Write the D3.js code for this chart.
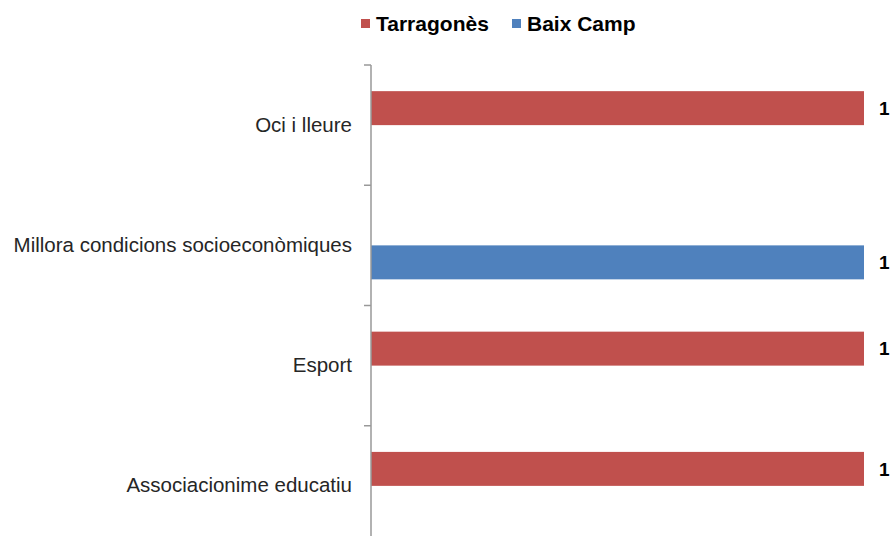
<!DOCTYPE html>
<meta charset="utf-8">
<style>
  body { margin: 0; background: #fff; }
  text { font-family: "Liberation Sans", Arial, sans-serif; }
</style>
<body>
<script src="https://d3js.org/d3.v7.min.js"></script>
<script>
var categories = ["Oci i lleure", "Millora condicions socioeconòmiques", "Esport", "Associacionime educatiu"];
var seriesNames = ["Tarragonès", "Baix Camp"];
var tarragones = [1, null, 1, 1];
var baixCamp = [null, 1, null, null];
var colors = ["#C0504D", "#4F81BD"];

var width = 891, height = 536;

var svg = d3.select("body").append("svg")
    .attr("width", width)
    .attr("height", height);

var y = d3.scaleBand()
    .domain(categories)
    .range([65, 546]);

var ySeries = d3.scaleBand()
    .domain(seriesNames)
    .range([0, y.bandwidth()])
    .paddingOuter(0.77)
    .paddingInner(0);

var x = d3.scaleLinear()
    .domain([0, 1])
    .range([371, 864]);

var rows = [];
categories.forEach(function(c, i) {
  [tarragones, baixCamp].forEach(function(s, j) {
    if (s[i] != null) rows.push({cat: c, series: seriesNames[j], value: s[i], color: colors[j]});
  });
});

// bars
svg.selectAll("rect.bar")
  .data(rows)
  .enter()
  .append("rect")
  .attr("class", "bar")
  .attr("x", x(0))
  .attr("y", function(d) { return y(d.cat) + ySeries(d.series); })
  .attr("width", function(d) { return x(d.value) - x(0); })
  .attr("height", ySeries.bandwidth())
  .attr("fill", function(d) { return d.color; });

// value labels
svg.selectAll("text.val")
  .data(rows)
  .enter()
  .append("text")
  .attr("class", "val")
  .attr("x", function(d) { return x(d.value) + 15; })
  .attr("y", function(d) { return y(d.cat) + ySeries(d.series) + ySeries.bandwidth() / 2; })
  .attr("dy", "0.35em")
  .attr("font-size", 19)
  .attr("font-weight", "bold")
  .attr("fill", "#000")
  .text(function(d) { return d.value; });

// category axis
var axis = d3.axisLeft(y).tickSize(0).tickPadding(19);
var gAxis = svg.append("g")
    .attr("transform", "translate(" + x(0) + ",0)")
    .call(axis);
gAxis.select(".domain").remove();
gAxis.selectAll("text")
  .attr("font-size", 20.5)
  .attr("fill", "#262626")
  .style("font-family", "'Liberation Sans', Arial, sans-serif");

svg.append("line")
  .attr("x1", x(0)).attr("x2", x(0))
  .attr("y1", 65).attr("y2", height)
  .attr("stroke", "#999").attr("stroke-width", 1.5);

// tick marks between categories
var boundaries = categories.map(function(c) { return y(c); });
svg.selectAll("line.tick")
  .data(boundaries)
  .enter()
  .append("line")
  .attr("class", "tick")
  .attr("x1", x(0) - 7).attr("x2", x(0))
  .attr("y1", function(d) { return d; })
  .attr("y2", function(d) { return d; })
  .attr("stroke", "#999").attr("stroke-width", 1.5);

// legend
var legendX = [361, 512];
var legend = svg.selectAll("g.legend")
  .data(seriesNames)
  .enter()
  .append("g")
  .attr("class", "legend")
  .attr("transform", function(d, i) { return "translate(" + legendX[i] + ",19)"; });
legend.append("rect")
  .attr("width", 9).attr("height", 9)
  .attr("fill", function(d, i) { return colors[i]; });
legend.append("text")
  .attr("x", 15).attr("y", 4.5)
  .attr("dy", "0.35em")
  .attr("font-size", 21)
  .attr("font-weight", "bold")
  .attr("fill", "#000")
  .text(function(d) { return d; });
</script>
</body>
